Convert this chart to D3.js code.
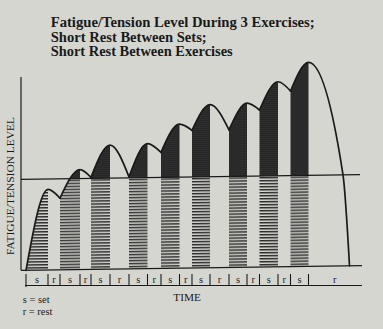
<!DOCTYPE html>
<html><head><meta charset="utf-8">
<script src="https://cdn.jsdelivr.net/npm/d3@7"></script>
<style>
html,body{margin:0;padding:0;background:#d6d6d1;}
svg{display:block;}
</style></head>
<body>
<svg id="chart" width="383" height="329"></svg>
<script>
// ---- data ----
const titleLines = ["Fatigue/Tension Level During 3 Exercises;", "Short Rest Between Sets;", "Short Rest Between Exercises"];
const yLabel = "FATIGUE/TENSION LEVEL";
const xLabel = "TIME";
const legendLines = ["s = set", "r = rest"];

// timeline segments (s = set, r = rest) and their durations (time units)
const segTypes = ["s","r","s","r","s","r","s","r","s","r","s","r","s","r","s","r","s","r"];
const segDurations = [2.2,1.2,2.0,1.1,1.9,1.9,1.85,1.35,1.85,1.25,1.8,1.9,1.8,1.25,1.85,1.25,1.8,5.25];
// fatigue/tension level at the start and at the end of each set
const setStartLevels = [0, 35.8, 46, 46, 58, 68.8, 68.8, 78.5, 87.8];
const setEndLevels   = [40.3, 50, 62, 62.5, 72, 81.5, 82, 92.5, 102];
// final recovery after the last set: [time since rest start, level]
const finalRecovery = [[3.45, 45.5], [4.1, 0]];
const thresholdLevel = 45.5;
const axisTopLevel = 96.7;

// ---- drawing ----
const svg = d3.select("#chart");
const FONT = "'Liberation Serif', 'DejaVu Serif', serif";
const ink = "#1a1a1a";

// segment boundaries
const bounds = [0];
segDurations.forEach(d => bounds.push(bounds[bounds.length - 1] + d));
const totalT = bounds[bounds.length - 1];

const x = d3.scaleLinear().domain([0, totalT]).range([26, 361]);
const y = d3.scaleLinear().domain([0, 100]).range([268, 68]);

// title
svg.append("g").selectAll("text").data(titleLines).join("text")
  .attr("x", 50.7).attr("y", (d, i) => [26.7, 41.5, 56][i])
  .attr("font-family", FONT).attr("font-weight", "bold").attr("font-size", 14.5)
  .attr("fill", ink)
  .attr("textLength", (d, i) => [264, 156, 182][i])
  .attr("lengthAdjust", "spacingAndGlyphs")
  .text(d => d);

// defs: patterns
const defs = svg.append("defs");
const stripes = defs.append("pattern").attr("id", "stripes")
  .attr("patternUnits", "userSpaceOnUse").attr("width", 400).attr("height", 3)
  .attr("x", 0).attr("y", 268);
stripes.append("rect").attr("width", 400).attr("height", 1.5).attr("fill", "#2b2b2b");
const dark = defs.append("pattern").attr("id", "dark")
  .attr("patternUnits", "userSpaceOnUse").attr("width", 400).attr("height", 2)
  .attr("x", 0).attr("y", 0);
dark.append("rect").attr("width", 400).attr("height", 2).attr("fill", "#252525");
dark.append("rect").attr("y", 1.3).attr("width", 400).attr("height", 0.5).attr("fill", "#3a3a3a");

// plot group, slightly sheared like the printed page
const tanA = Math.tan(0.8 * Math.PI / 180);
const plot = svg.append("g").attr("transform", `translate(0,${190 * tanA}) skewY(-0.8)`);

// humps
const setIdx = segTypes.map((t, i) => t === "s" ? i : -1).filter(i => i >= 0);
const humps = setIdx.map((si, k) => {
  const tS = bounds[si], tE = bounds[si + 1], tR = bounds[si + 2];
  const pts = [[tS, setStartLevels[k]], [tE, setEndLevels[k]]];
  if (k < setIdx.length - 1) pts.push([tR, setStartLevels[k + 1]]);
  else finalRecovery.forEach(p => pts.push([tE + p[0], p[1]]));
  return pts;
});

const line = d3.line().x(d => x(d[0])).y(d => y(d[1])).curve(d3.curveMonotoneX);
const area = d3.area().x(d => x(d[0])).y0(y(0)).y1(d => y(d[1])).curve(d3.curveMonotoneX);

const clip = defs.append("clipPath").attr("id", "under");
clip.selectAll("path").data(humps).join("path").attr("d", area);

const fills = plot.append("g").attr("clip-path", "url(#under)");
setIdx.forEach(si => {
  const x0 = x(bounds[si]), x1 = x(bounds[si + 1]);
  fills.append("rect").attr("x", x0).attr("width", x1 - x0)
    .attr("y", y(thresholdLevel)).attr("height", y(0) - y(thresholdLevel))
    .attr("fill", "url(#stripes)");
  fills.append("rect").attr("x", x0).attr("width", x1 - x0)
    .attr("y", y(110)).attr("height", y(thresholdLevel) - y(110))
    .attr("fill", "url(#dark)");
});

// axes and reference line
plot.append("line").attr("x1", 21).attr("x2", 21).attr("y1", y(axisTopLevel)).attr("y2", y(0))
  .attr("stroke", ink).attr("stroke-width", 1.2);
plot.append("line").attr("x1", 21).attr("x2", 362).attr("y1", y(0)).attr("y2", y(0))
  .attr("stroke", ink).attr("stroke-width", 1.3);
plot.append("line").attr("x1", 21).attr("x2", 360).attr("y1", y(thresholdLevel)).attr("y2", y(thresholdLevel))
  .attr("stroke", ink).attr("stroke-width", 1.2);

// curve
plot.append("g").selectAll("path").data(humps).join("path")
  .attr("d", line).attr("fill", "none").attr("stroke", ink)
  .attr("stroke-width", 1.7).attr("stroke-linecap", "round").attr("stroke-linejoin", "round");

// timeline row
const row = svg.append("g");
row.append("line").attr("x1", x(0) - 1).attr("x2", x(totalT) + 1).attr("y1", 285.5).attr("y2", 285.5)
  .attr("stroke", ink).attr("stroke-width", 1.1);
row.selectAll("line.div").data(bounds.slice(0, -1)).join("line").attr("class", "div")
  .attr("x1", d => x(d)).attr("x2", d => x(d))
  .attr("y1", 274).attr("y2", (d, i) => i === 0 ? 287 : 285.5)
  .attr("stroke", ink).attr("stroke-width", 1.1);
row.selectAll("text").data(segTypes).join("text")
  .attr("x", (d, i) => (x(bounds[i]) + x(bounds[i + 1])) / 2)
  .attr("y", 282.5).attr("text-anchor", "middle")
  .attr("font-family", FONT).attr("font-size", 10.5).attr("fill", ink)
  .text(d => d);

// axis labels
svg.append("text").attr("transform", "translate(14.3,186) rotate(-90)")
  .attr("text-anchor", "middle").attr("font-family", FONT).attr("font-size", 11)
  .attr("fill", ink).attr("textLength", 138).attr("lengthAdjust", "spacingAndGlyphs")
  .text(yLabel);
svg.append("text").attr("x", 173.3).attr("y", 300.7)
  .attr("font-family", FONT).attr("font-size", 10.5).attr("fill", ink)
  .attr("textLength", 27.5).attr("lengthAdjust", "spacingAndGlyphs")
  .text(xLabel);

// legend
svg.append("g").selectAll("text").data(legendLines).join("text")
  .attr("x", 22.7).attr("y", (d, i) => [303.3, 315][i])
  .attr("font-family", FONT).attr("font-size", 10.5).attr("fill", ink)
  .text(d => d);
</script>
</body></html>
